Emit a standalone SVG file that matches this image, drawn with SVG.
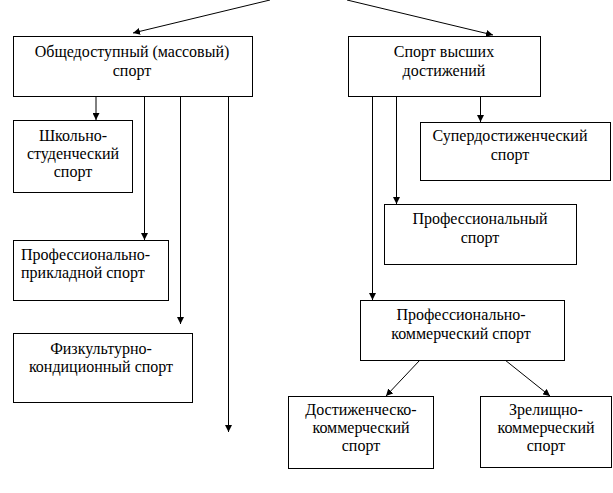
<svg xmlns="http://www.w3.org/2000/svg" width="613" height="493" viewBox="0 0 613 493">
<defs>
<marker id="ah" viewBox="0 0 10 10" refX="10" refY="5" markerWidth="7" markerHeight="7" markerUnits="userSpaceOnUse" orient="auto">
<path d="M0,0 L10,5 L0,10 Z" fill="#000"/>
</marker>
<style>
rect{fill:#fff;stroke:#000;stroke-width:1}
.c{text-anchor:middle}
.e line{stroke:#000;stroke-width:1;marker-end:url(#ah)}
</style>
</defs>
<rect x="0" y="0" width="613" height="493" style="fill:#fff;stroke:none"/>
<g class="e" id="connectors">
<line x1="270" y1="0" x2="133" y2="33"/>
<line x1="347" y1="0" x2="493" y2="35"/>
<line x1="96" y1="96" x2="96" y2="120"/>
<line x1="144.5" y1="96" x2="144.5" y2="240"/>
<line x1="180.5" y1="96" x2="180.5" y2="324"/>
<line x1="228.5" y1="96" x2="228.5" y2="432"/>
<line x1="480.5" y1="96" x2="480.5" y2="122"/>
<line x1="396.5" y1="96" x2="396.5" y2="204"/>
<line x1="372.5" y1="96" x2="372.5" y2="300"/>
<line x1="420" y1="360" x2="386" y2="396"/>
<line x1="505" y1="360" x2="550" y2="396"/>
</g>
<g font-family="Liberation Serif, Times New Roman, DejaVu Serif, serif" font-size="16" fill="#000">
<g id="n1"><rect x="13.5" y="36.5" width="239" height="60"/><text class="c" x="132" y="57">Общедоступный (массовый)</text><text class="c" x="132" y="76">спорт</text></g>
<g id="n2"><rect x="348.5" y="36.5" width="192" height="60"/><text class="c" x="444" y="57">Спорт высших</text><text class="c" x="444" y="76">достижений</text></g>
<g id="n3"><rect x="13.5" y="120.5" width="119" height="72"/><text class="c" x="73" y="141">Школьно-</text><text class="c" x="73" y="159">студенческий</text><text class="c" x="73" y="177">спорт</text></g>
<g id="n4"><rect x="13.5" y="240.5" width="155" height="60"/><text x="21" y="260">Профессионально-</text><text x="21" y="278">прикладной спорт</text></g>
<g id="n5"><rect x="13.5" y="333.5" width="179" height="69"/><text class="c" x="101" y="354">Физкультурно-</text><text class="c" x="101" y="372">кондиционный спорт</text></g>
<g id="n6"><rect x="420.5" y="122.5" width="190" height="58"/><text class="c" x="510" y="141">Супердостиженческий</text><text class="c" x="510" y="160">спорт</text></g>
<g id="n7"><rect x="384.5" y="204.5" width="192" height="60"/><text class="c" x="480" y="224">Профессиональный</text><text class="c" x="480" y="243">спорт</text></g>
<g id="n8"><rect x="360.5" y="300.5" width="204" height="60"/><text class="c" x="461" y="320">Профессионально-</text><text class="c" x="461" y="339">коммерческий спорт</text></g>
<g id="n9"><rect x="288.5" y="396.5" width="145" height="72"/><text class="c" x="361" y="415">Достиженческо-</text><text class="c" x="361" y="433">коммерческий</text><text class="c" x="361" y="451">спорт</text></g>
<g id="n10"><rect x="480.5" y="396.5" width="131" height="71"/><text class="c" x="546" y="415">Зрелищно-</text><text class="c" x="546" y="433">коммерческий</text><text class="c" x="546" y="451">спорт</text></g>
</g>
</svg>
